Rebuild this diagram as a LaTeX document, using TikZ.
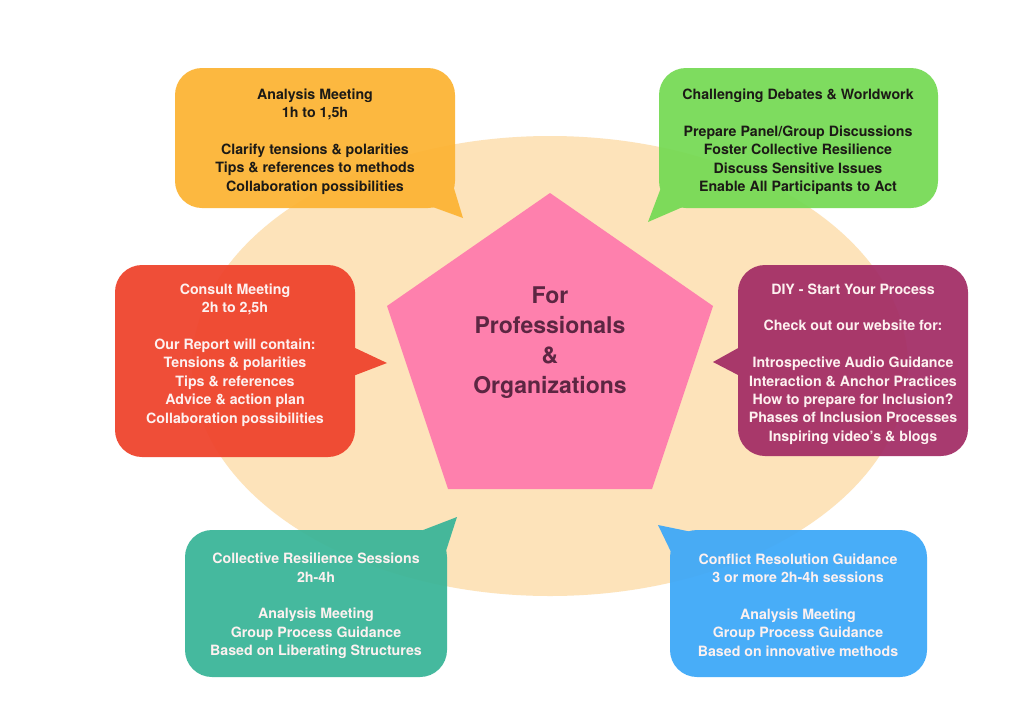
\documentclass[tikz,border=0pt]{standalone}
\usepackage{fontspec}
\setmainfont{TeX Gyre Heros}
\usetikzlibrary{shapes.geometric}
\definecolor{ellc}{HTML}{FDE3BA}
\definecolor{pinkc}{HTML}{FE80AD}
\definecolor{orangec}{HTML}{FCB435}
\definecolor{greenc}{HTML}{76DA55}
\definecolor{redc}{HTML}{EF432C}
\definecolor{purplec}{HTML}{A32E66}
\definecolor{tealc}{HTML}{3AB598}
\definecolor{bluec}{HTML}{3DA8F8}
\definecolor{centertext}{HTML}{5C2642}
\definecolor{darktext}{HTML}{1C1A16}
\definecolor{lighttext}{HTML}{FDF1F0}
\tikzset{
  bubbletext/.style={align=center, inner sep=0pt, font=\fontsize{14.2}{18.4}\selectfont\bfseries},
  darkt/.style={bubbletext, text=darktext},
  lightt/.style={bubbletext, text=lighttext},
  bubblegroup/.style={transparency group, opacity=0.94},
  bubblebody/.style={rounded corners=27pt},
}
\begin{document}
\begin{tikzpicture}[x=1pt,y=-1pt]
\useasboundingbox (0,0) rectangle (1024,723);
\fill[white] (0,0) rectangle (1024,723);

% background ellipse
\node[ellipse, fill=ellc, minimum width=716pt, minimum height=460pt, inner sep=0pt] (ell) at (550,366) {};

% central pentagon
\coordinate (pa) at (550,193);
\coordinate (pb) at (713,306);
\coordinate (pc) at (652,489);
\coordinate (pd) at (448,489);
\coordinate (pe) at (387,306);
\fill[pinkc] (pa) -- (pb) -- (pc) -- (pd) -- (pe) -- cycle;
\node[align=center, inner sep=0pt, text=centertext, font=\fontsize{23}{30}\selectfont\bfseries] (center) at (550,343)
  {For\\Professionals\\\&\\Organizations};

% orange bubble
\begin{scope}[bubblegroup]
\fill[orangec, bubblebody] (175,68) rectangle (455,208);
\fill[orangec] (430,206) -- (453,185) -- (463,218) -- cycle;
\end{scope}
\node[darkt] (analysis) at (315,141.5)
  {Analysis Meeting\\1h to 1,5h\\[18.4pt]Clarify tensions \& polarities\\Tips \& references to methods\\Collaboration possibilities};

% green bubble
\begin{scope}[bubblegroup]
\fill[greenc, bubblebody] (659,68) rectangle (938,208);
\fill[greenc] (662,185) -- (685,206) -- (648,222) -- cycle;
\end{scope}
\node[darkt] (debates) at (798,142)
  {Challenging Debates \& Worldwork\\[18.4pt]Prepare Panel/Group Discussions\\Foster Collective Resilience\\Discuss Sensitive Issues\\Enable All Participants to Act};

% red bubble
\begin{scope}[bubblegroup]
\fill[redc, bubblebody] (115,265) rectangle (355,457);
\fill[redc] (353,347) -- (353,376) -- (387,363) -- cycle;
\end{scope}
\node[lightt] (consult) at (235,355)
  {Consult Meeting\\2h to 2,5h\\[18.4pt]Our Report will contain:\\Tensions \& polarities\\Tips \& references\\Advice \& action plan\\Collaboration possibilities};

% purple bubble
\begin{scope}[bubblegroup]
\fill[purplec, bubblebody] (738,265) rectangle (968,456);
\fill[purplec] (740,347) -- (740,376) -- (713,362) -- cycle;
\end{scope}
\node[lightt] (diy) at (853,364)
  {DIY - Start Your Process\\[18.4pt]Check out our website for:\\[18.4pt]Introspective Audio Guidance\\Interaction \& Anchor Practices\\How to prepare for Inclusion?\\Phases of Inclusion Processes\\Inspiring video's \& blogs};

% teal bubble
\begin{scope}[bubblegroup]
\fill[tealc, bubblebody] (185,530) rectangle (447,677);
\fill[tealc] (418,532) -- (445,554) -- (457,517) -- cycle;
\end{scope}
\node[lightt] (resilience) at (316,606)
  {Collective Resilience Sessions\\2h-4h\\[18.4pt]Analysis Meeting\\Group Process Guidance\\Based on Liberating Structures};

% blue bubble
\begin{scope}[bubblegroup]
\fill[bluec, bubblebody] (670,530) rectangle (927,677);
\fill[bluec] (672,554) -- (692,532) -- (658,525) -- cycle;
\end{scope}
\node[lightt] (conflict) at (798,605)
  {Conflict Resolution Guidance\\3 or more 2h-4h sessions\\[18.4pt]Analysis Meeting\\Group Process Guidance\\Based on innovative methods};
\end{tikzpicture}
\end{document}
